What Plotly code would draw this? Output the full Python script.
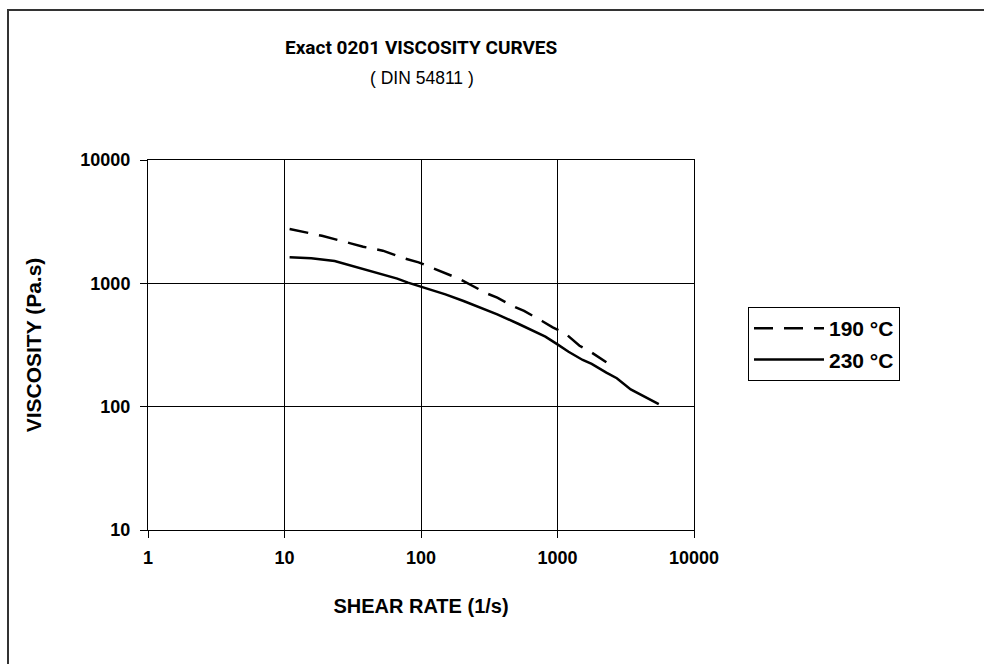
import plotly.graph_objects as go

# Data (log-log)
shear_190 = [10.9, 15.2, 18.8, 30.5, 37.7, 52.5, 75.5, 96, 155, 192, 302, 362, 490, 569, 770, 922, 1140, 1450, 1740, 2280]
visc_190 = [2760, 2540, 2430, 2110, 1980, 1840, 1595, 1480, 1205, 1084, 830, 765, 640, 597, 495, 440, 393, 312, 279, 229]

shear_230 = [10.9, 15.7, 23.3, 27.9, 41.3, 55.9, 67, 80.3, 100, 151, 205, 284, 362, 520, 703, 815, 1000, 1205, 1530, 1780, 2280, 2720, 3440, 4270, 5520]
visc_230 = [1625, 1596, 1518, 1435, 1259, 1147, 1091, 1012, 940, 814, 719, 620, 561, 468, 398, 370, 320, 279, 239, 222, 189, 170, 138, 122, 105]

series_names = ["190 °C", "230 °C"]
x_tick_vals = [1, 10, 100, 1000, 10000]
y_tick_vals = [10, 100, 1000, 10000]

FONT = "Liberation Sans, Arial, sans-serif"
TITLE_FONT = "Roboto, Liberation Sans, sans-serif"

fig = go.Figure()
fig.add_trace(go.Scatter(x=shear_190, y=visc_190, mode="lines", name=series_names[0],
                         legendgroup="a",
                         line=dict(color="black", width=2.5, dash="19px,11px")))
fig.add_trace(go.Scatter(x=shear_230, y=visc_230, mode="lines", name=series_names[1],
                         legendgroup="b",
                         line=dict(color="black", width=2.5)))

W, H = 984, 664
L, T = 148, 160
PW, PH = 546, 370
R = W - L - PW
B = H - T - PH


def px(x):
    return (x - L) / PW


def py(y):
    return (T + PH - y) / PH


fig.update_layout(
    width=W, height=H,
    margin=dict(l=L, r=R, t=T, b=B, pad=0),
    paper_bgcolor="white", plot_bgcolor="white",
    font=dict(family=FONT, color="black"),
    showlegend=True,
    legend=dict(x=px(748), y=py(307), xanchor="left", yanchor="top",
                bordercolor="black", borderwidth=1, bgcolor="white",
                font=dict(size=21, family=FONT, weight="bold"),
                itemwidth=70, tracegroupgap=1, traceorder="grouped"),
    xaxis=dict(type="log", range=[0, 4], tickvals=x_tick_vals,
               ticktext=[str(v) for v in x_tick_vals],
               showgrid=True, gridcolor="black", gridwidth=1,
               showline=True, linecolor="black", linewidth=1, mirror=True,
               ticks="outside", ticklen=7, tickcolor="black",
               ticklabelstandoff=4,
               tickfont=dict(size=18, family=FONT, weight="bold"),
               title=dict(text="<b>SHEAR RATE (1/s)</b>", font=dict(size=20, family=FONT), standoff=32),
               zeroline=False),
    yaxis=dict(type="log", range=[1, 4], tickvals=y_tick_vals,
               ticktext=[str(v) for v in y_tick_vals],
               showgrid=True, gridcolor="black", gridwidth=1,
               showline=True, linecolor="black", linewidth=1, mirror=True,
               ticks="outside", ticklen=7, tickcolor="black",
               ticklabelstandoff=6,
               tickfont=dict(size=18, family=FONT, weight="bold"),
               title=dict(text="<b>VISCOSITY (Pa.s)</b>", font=dict(size=21, family=FONT), standoff=32),
               zeroline=False),
    annotations=[
        dict(text="<b>Exact 0201 VISCOSITY CURVES</b>", x=px(421.5), y=py(47), xref="paper", yref="paper",
             showarrow=False, xanchor="center", yanchor="middle", font=dict(size=19, family=TITLE_FONT)),
        dict(text="( DIN 54811 )", x=px(421.5), y=py(78), xref="paper", yref="paper",
             showarrow=False, xanchor="center", yanchor="middle", font=dict(size=17.5, family=FONT)),
    ],
    shapes=[
        dict(type="path", xref="paper", yref="paper",
             path=f"M {px(8)} {py(700)} L {px(8)} {py(10)} L {px(1010)} {py(10)}",
             line=dict(color="#333333", width=2)),
    ],
)

fig.write_html(
    "out.html",
    config={"displayModeBar": False},
    post_script="document.body.style.margin='0px';document.body.style.overflow='hidden';",
)
